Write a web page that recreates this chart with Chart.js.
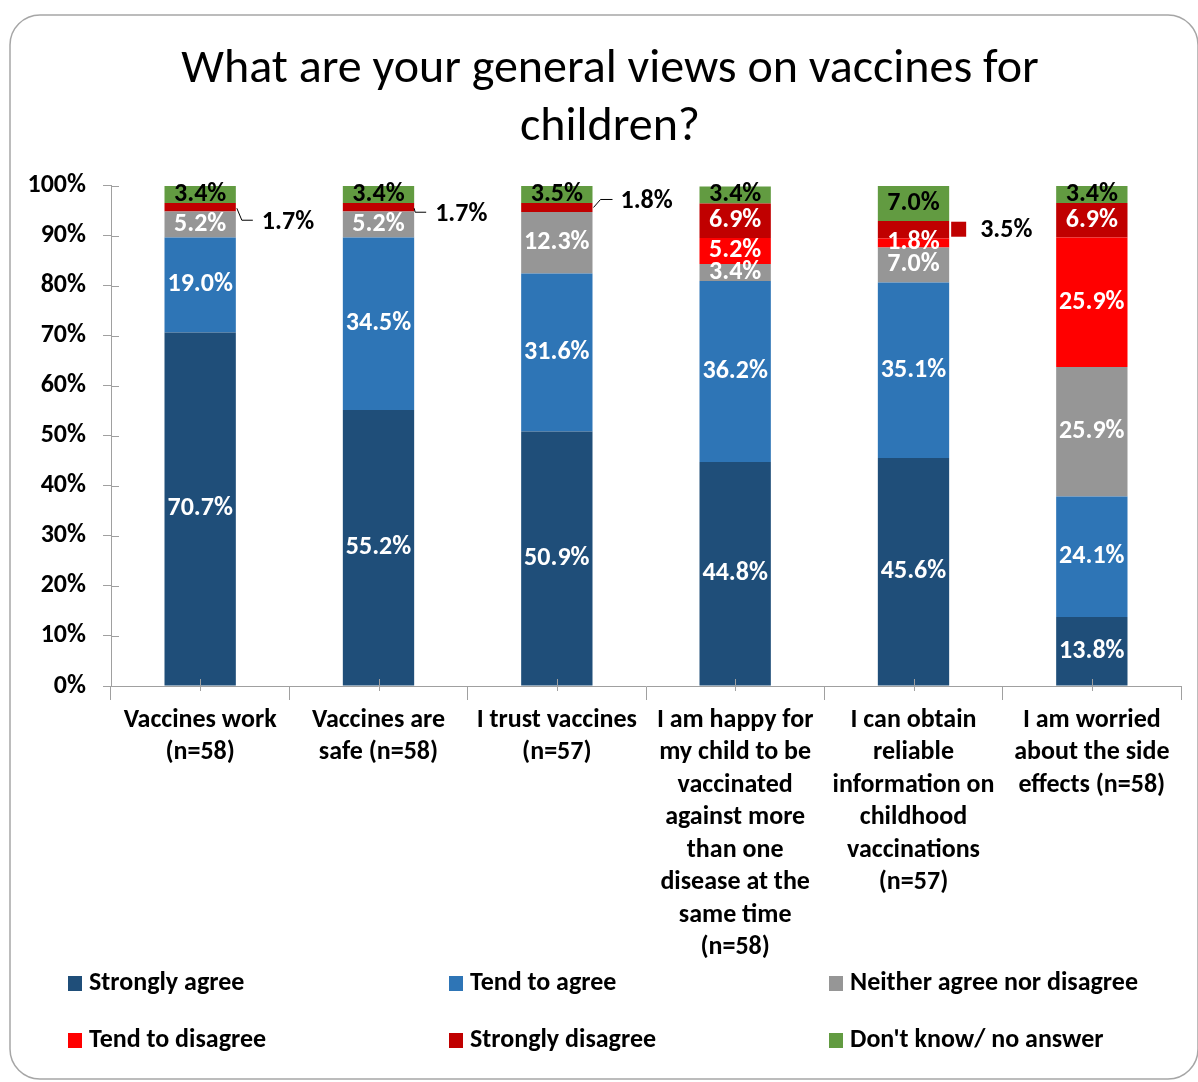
<!DOCTYPE html>
<html>
<head>
<meta charset="utf-8">
<title>What are your general views on vaccines for children?</title>
<script src="https://cdn.jsdelivr.net/npm/chart.js@4.4.1/dist/chart.umd.min.js"></script>
<style>
  html, body { margin: 0; padding: 0; background: #fff; }
  #wrap { width: 1198px; height: 1082px; }
</style>
</head>
<body>
<div id="wrap"><canvas id="chart" width="1198" height="1082"></canvas></div>
<script>
// data
var categories = [
  ["Vaccines work", "(n=58)"],
  ["Vaccines are", "safe (n=58)"],
  ["I trust vaccines", "(n=57)"],
  ["I am happy for", "my child to be", "vaccinated", "against more", "than one", "disease at the", "same time", "(n=58)"],
  ["I can obtain", "reliable", "information on", "childhood", "vaccinations", "(n=57)"],
  ["I am worried", "about the side", "effects (n=58)"]
];
var seriesNames = ["Strongly agree", "Tend to agree", "Neither agree nor disagree",
                   "Tend to disagree", "Strongly disagree", "Don't know/ no answer"];
var stronglyAgree    = [70.7, 55.2, 50.9, 44.8, 45.6, 13.8];
var tendToAgree      = [19.0, 34.5, 31.6, 36.2, 35.1, 24.1];
var neither          = [5.2, 5.2, 12.3, 3.4, 7.0, 25.9];
var tendToDisagree   = [0, 0, 0, 5.2, 1.8, 25.9];
var stronglyDisagree = [1.7, 1.7, 1.8, 6.9, 3.5, 6.9];
var dontKnow         = [3.4, 3.4, 3.5, 3.4, 7.0, 3.4];
var yTicks = [0, 10, 20, 30, 40, 50, 60, 70, 80, 90, 100];

var colors = ["#1F4E79", "#2E75B6", "#969696", "#FF0000", "#C00000", "#629B41"];
var FONT = 'Carlito, Lato, "Open Sans", sans-serif';
var BOLD = 26;

// labels that sit outside the bar (offsets from bar right edge / segment middle)
var outside = [
  { ds: 4, idx: 0, text: [26, 15], leader: [[1, 1], [6, 13], [17, 13]] },
  { ds: 4, idx: 1, text: [21, 7],  leader: [[0, 1], [1, 5], [12, 5]] },
  { ds: 4, idx: 2, text: [28, -6], leader: [[1, 0], [8, -8], [20, -8]] },
  { ds: 4, idx: 4, text: [31, 1],  key: [2, -8, 15] }
];

var frame = {
  id: "frame",
  afterLayout: function(chart) {
    // title in the original sits a bit right of the canvas centre
    if (chart.titleBlock) chart.titleBlock.left += 28;
  },
  beforeDraw: function(chart) {
    var c = chart.ctx;
    c.save();
    c.fillStyle = "#fff";
    c.fillRect(0, 0, chart.width, chart.height);
    c.strokeStyle = "#A6A6A6";
    c.lineWidth = 1.5;
    c.beginPath();
    c.roundRect(10, 15, 1188, 1064, 30);
    c.stroke();
    c.restore();
  }
};

var axisTicks = {
  id: "axisTicks",
  afterDatasetsDraw: function(chart) {
    var c = chart.ctx, ys = chart.scales.y, xs = chart.scales.x;
    c.save();
    c.strokeStyle = "#A0A0A0";
    c.lineWidth = 1;
    c.beginPath();
    yTicks.forEach(function(v) {
      var py = Math.round(ys.getPixelForValue(v)) + 0.5;
      c.moveTo(ys.right, py);
      c.lineTo(ys.right + 8, py);
    });
    categories.forEach(function(_, i) {
      var px = Math.round(xs.getPixelForValue(i)) + 0.5;
      c.moveTo(px, xs.top - 7);
      c.lineTo(px, xs.top + 5);
    });
    c.stroke();
    c.restore();
  }
};

var barLabels = {
  id: "barLabels",
  afterDatasetsDraw: function(chart) {
    var c = chart.ctx;
    c.save();
    c.font = "bold " + BOLD + "px " + FONT;
    c.textBaseline = "middle";
    chart.data.datasets.forEach(function(ds, di) {
      var meta = chart.getDatasetMeta(di);
      meta.data.forEach(function(bar, i) {
        var v = ds.data[i];
        if (!v) return;
        var p = bar.getProps(["x", "y", "base", "width"], true);
        var cy = (p.y + p.base) / 2;
        var right = p.x + p.width / 2;
        var txt = v.toFixed(1) + "%";
        var o = outside.find(function(e) { return e.ds === di && e.idx === i; });
        if (o) {
          if (o.leader) {
            c.strokeStyle = "#000";
            c.lineWidth = 1;
            c.beginPath();
            o.leader.forEach(function(pt, k) {
              if (k === 0) c.moveTo(right + pt[0], cy + pt[1]);
              else c.lineTo(right + pt[0], cy + pt[1]);
            });
            c.stroke();
          }
          if (o.key) {
            c.fillStyle = ds.backgroundColor;
            c.fillRect(right + o.key[0], cy + o.key[1], o.key[2], o.key[2]);
          }
          c.fillStyle = "#000";
          c.textAlign = "left";
          c.fillText(txt, right + o.text[0], cy + o.text[1]);
        } else {
          c.fillStyle = di === 5 ? "#000" : "#fff";
          c.textAlign = "center";
          c.fillText(txt, p.x, cy);
        }
      });
    });
    c.restore();
  }
};

var legendBox = {
  id: "legendBox",
  afterDraw: function(chart) {
    var c = chart.ctx;
    var cols = [68, 449, 829], rows = [983, 1040];
    c.save();
    c.font = "bold " + BOLD + "px " + FONT;
    c.textBaseline = "middle";
    c.textAlign = "left";
    chart.data.datasets.forEach(function(ds, i) {
      var x = cols[i % 3], y = rows[Math.floor(i / 3)];
      c.fillStyle = ds.backgroundColor;
      c.fillRect(x, y - 7, 14, 15);
      c.fillStyle = "#000";
      c.fillText(ds.label, x + 21, y);
    });
    c.restore();
  }
};

var seriesValues = [stronglyAgree, tendToAgree, neither, tendToDisagree, stronglyDisagree, dontKnow];

new Chart(document.getElementById("chart"), {
  type: "bar",
  data: {
    labels: categories,
    datasets: seriesValues.map(function(vals, i) {
      return {
        label: seriesNames[i],
        data: vals,
        backgroundColor: colors[i],
        barPercentage: 0.4,
        categoryPercentage: 1.0
      };
    })
  },
  options: {
    responsive: false,
    animation: false,
    layout: { padding: { left: 11, right: 17, top: 0, bottom: 121 } },
    plugins: {
      legend: { display: false },
      tooltip: { enabled: false },
      title: {
        display: true,
        text: ["What are your general views on vaccines for", "children?"],
        color: "#000",
        font: { family: FONT, size: 48, weight: "normal", lineHeight: 1.208 },
        padding: { top: 41, bottom: 29 }
      }
    },
    scales: {
      x: {
        stacked: true,
        grid: { display: true, drawOnChartArea: false, drawTicks: true, tickLength: 14, color: "#A0A0A0", offset: true },
        border: { display: true, color: "#A0A0A0" },
        ticks: {
          color: "#000",
          padding: 4,
          maxRotation: 0,
          autoSkip: false,
          font: { family: FONT, size: BOLD, weight: "bold", lineHeight: 32.5 / BOLD }
        },
        afterFit: function(s) { s.height = 275; }
      },
      y: {
        stacked: true,
        min: 0,
        max: 100,
        grid: { display: true, drawOnChartArea: false, drawTicks: true, tickLength: 8, color: "#A0A0A0" },
        border: { display: true, color: "#A0A0A0" },
        ticks: {
          stepSize: 10,
          color: "#000",
          padding: 17,
          font: { family: FONT, size: BOLD, weight: "bold" },
          callback: function(v) { return v + "%"; }
        },
        afterFit: function(s) { s.width = 100; }
      }
    }
  },
  plugins: [frame, axisTicks, barLabels, legendBox]
});
</script>
</body>
</html>
